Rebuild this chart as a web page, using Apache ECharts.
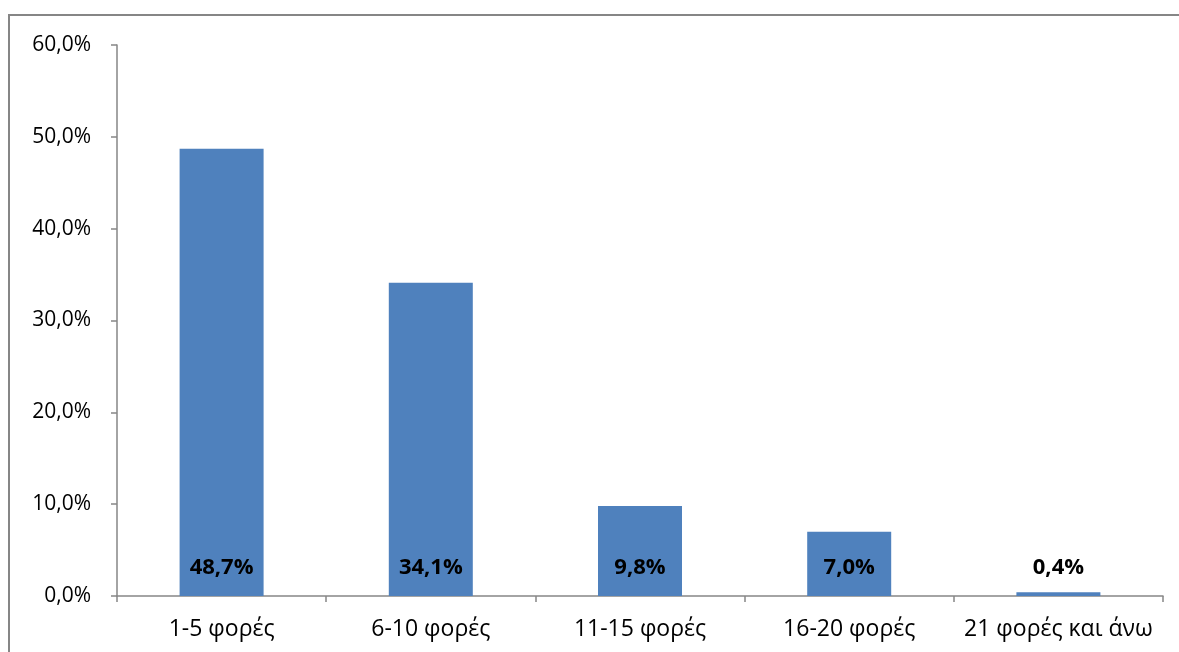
<!DOCTYPE html>
<html>
<head>
<meta charset="utf-8">
<script src="https://cdn.jsdelivr.net/npm/echarts@6/dist/echarts.min.js"></script>
<style>
  html, body { margin: 0; padding: 0; background: #ffffff; }
  #chart { width: 1179px; height: 652px; }
</style>
</head>
<body>
<div id="chart"></div>
<script>
// Frequency categories and their percentage shares
const categories = ['1-5 φορές', '6-10 φορές', '11-15 φορές', '16-20 φορές', '21 φορές και άνω'];
const shares = [48.7, 34.1, 9.8, 7.0, 0.4];
const yTicks = { min: 0, max: 60, interval: 10 };

const fmtPct = v => v.toFixed(1).replace('.', ',') + '%';
const font = "'Open Sans', 'Noto Sans', sans-serif";
const axisGray = '#868686';

const chart = echarts.init(document.getElementById('chart'));
chart.setOption({
  animation: false,
  backgroundColor: '#ffffff',
  graphic: [{
    type: 'rect',
    shape: { x: 9, y: 15, width: 1220, height: 700 },
    style: { fill: 'none', stroke: axisGray, lineWidth: 2 },
    silent: true
  }],
  grid: { left: 117, top: 45, right: 16, bottom: 56, containLabel: false },
  xAxis: {
    type: 'category',
    data: categories,
    axisLine: { lineStyle: { color: axisGray, width: 1.5 } },
    axisTick: { show: true, length: 6, lineStyle: { color: axisGray, width: 1.5 } },
    axisLabel: { color: '#000', fontSize: 23, fontFamily: font, margin: 22, interval: 0 }
  },
  yAxis: {
    type: 'value',
    min: yTicks.min, max: yTicks.max, interval: yTicks.interval,
    splitLine: { show: false },
    axisLine: { show: true, lineStyle: { color: axisGray, width: 1.5 } },
    axisTick: { show: true, length: 6, lineStyle: { color: axisGray, width: 1.5 } },
    axisLabel: { color: '#000', fontSize: 21, fontFamily: font, margin: 26, formatter: v => fmtPct(v) }
  },
  series: [{
    type: 'bar',
    data: shares,
    barWidth: 84,
    itemStyle: { color: '#4F81BD' },
    label: {
      show: true,
      position: 'insideBottom',
      distance: 17,
      color: '#000',
      fontWeight: 'bold',
      fontSize: 22,
      fontFamily: font,
      formatter: p => fmtPct(p.value)
    }
  }]
});
</script>
</body>
</html>
